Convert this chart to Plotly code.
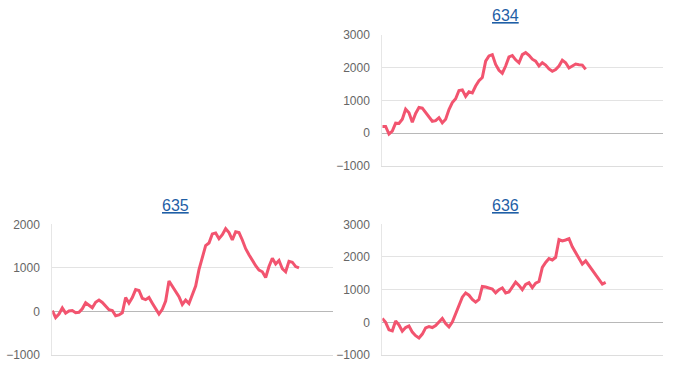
import plotly.graph_objects as go

titles = ["634", "635", "636"]

s634 = [200, 200, -30, 60, 300, 290, 420, 730, 620, 330, 600, 780, 760, 630, 470, 360,
        380, 470, 310, 420, 720, 930, 1050, 1300, 1320, 1120, 1260, 1230, 1440, 1600,
        1700, 2200, 2360, 2400, 2100, 1920, 1830, 2050, 2330, 2370, 2240, 2150, 2400,
        2460, 2380, 2260, 2200, 2050, 2150, 2080, 1960, 1890, 1940, 2050, 2230, 2150,
        1990, 2040, 2110, 2090, 2080, 1950]

s635 = [20, -140, -60, 80, -40, 10, 20, -30, -20, 60, 200, 150, 85, 210, 260, 205, 130,
        40, 20, -100, -80, -30, 320, 190, 320, 500, 480, 300, 270, 320, 190, 70, -60, 50,
        240, 700, 580, 450, 340, 160, 260, 180, 370, 580, 960, 1260, 1510, 1570, 1780,
        1800, 1670, 1760, 1900, 1810, 1640, 1830, 1810, 1640, 1440, 1300, 1160, 1050, 950,
        910, 780, 1030, 1220, 1090, 1170, 980, 910, 1150, 1130, 1030, 1000]

s636 = [120, 0, -230, -260, 40, -80, -270, -160, -110, -300, -410, -480, -360, -170, -130,
        -160, -100, 0, 120, -40, -140, 10, 270, 510, 770, 900, 830, 700, 620, 700, 1100,
        1080, 1060, 1020, 900, 1000, 1050, 900, 930, 1100, 1230, 1130, 1000, 1160, 1210,
        1060, 1200, 1250, 1680, 1830, 1950, 1910, 1990, 2530, 2490, 2520, 2560, 2310, 2130,
        1980, 1780, 1880, 1740, 1580, 1430, 1290, 1170, 1220]

series = [s634, s635, s636]
y_ranges = [[-1000, 3000], [-1000, 2000], [-1000, 3000]]
y_ticks = [[-1000, 0, 1000, 2000, 3000], [-1000, 0, 1000, 2000], [-1000, 0, 1000, 2000, 3000]]

W, H = 675, 368
# plot areas in pixels: (left, right, top, bottom)
boxes = [(382.3, 663, 35, 165.7), (52.3, 333, 224.3, 355), (382.3, 663, 224.3, 355)]
title_pos = [(505.7, 16), (175.7, 205), (505.7, 205)]

LINE = "#f2546f"
fig = go.Figure()
layout = dict(width=W, height=H,
              margin=dict(l=0, r=0, t=0, b=0, pad=0, autoexpand=False),
              paper_bgcolor="white", plot_bgcolor="white", showlegend=False,
              font=dict(family="Liberation Sans, Arial, sans-serif"))
annotations = []
for i, (vals, box) in enumerate(zip(series, boxes)):
    n = i + 1
    xa = "x" if n == 1 else f"x{n}"
    ya = "y" if n == 1 else f"y{n}"
    fig.add_trace(go.Scatter(x=list(range(len(vals))), y=vals, mode="lines",
                             line=dict(color=LINE, width=3), xaxis=xa, yaxis=ya,
                             hoverinfo="skip"))
    l, r, t, b = box
    layout["xaxis" if n == 1 else f"xaxis{n}"] = dict(
        domain=[l / W, r / W], range=[0, 84.2], showgrid=False, showticklabels=False,
        zeroline=False, showline=True, linecolor="#dddddd", linewidth=1,
        anchor=ya, fixedrange=True, automargin=False)
    layout["yaxis" if n == 1 else f"yaxis{n}"] = dict(
        domain=[1 - b / H, 1 - t / H], range=y_ranges[i], tickvals=y_ticks[i],
        showgrid=True, gridcolor="#e3e3e3", gridwidth=1,
        zeroline=True, zerolinecolor="#b8b8b8", zerolinewidth=1,
        showline=True, linecolor="#e6e6e6", linewidth=1,
        ticks="", ticklabelstandoff=9, automargin=False,
        tickfont=dict(size=12, color="#666666"), anchor=xa, fixedrange=True)
    tx, ty = title_pos[i]
    annotations.append(dict(text=f"<u>{titles[i]}</u>", x=tx / W, y=1 - ty / H,
                            xref="paper", yref="paper", showarrow=False,
                            xanchor="center", yanchor="middle",
                            font=dict(size=16, color="#1f5fa6")))
layout["annotations"] = annotations
fig.update_layout(**layout)
fig.write_html("out.html")
